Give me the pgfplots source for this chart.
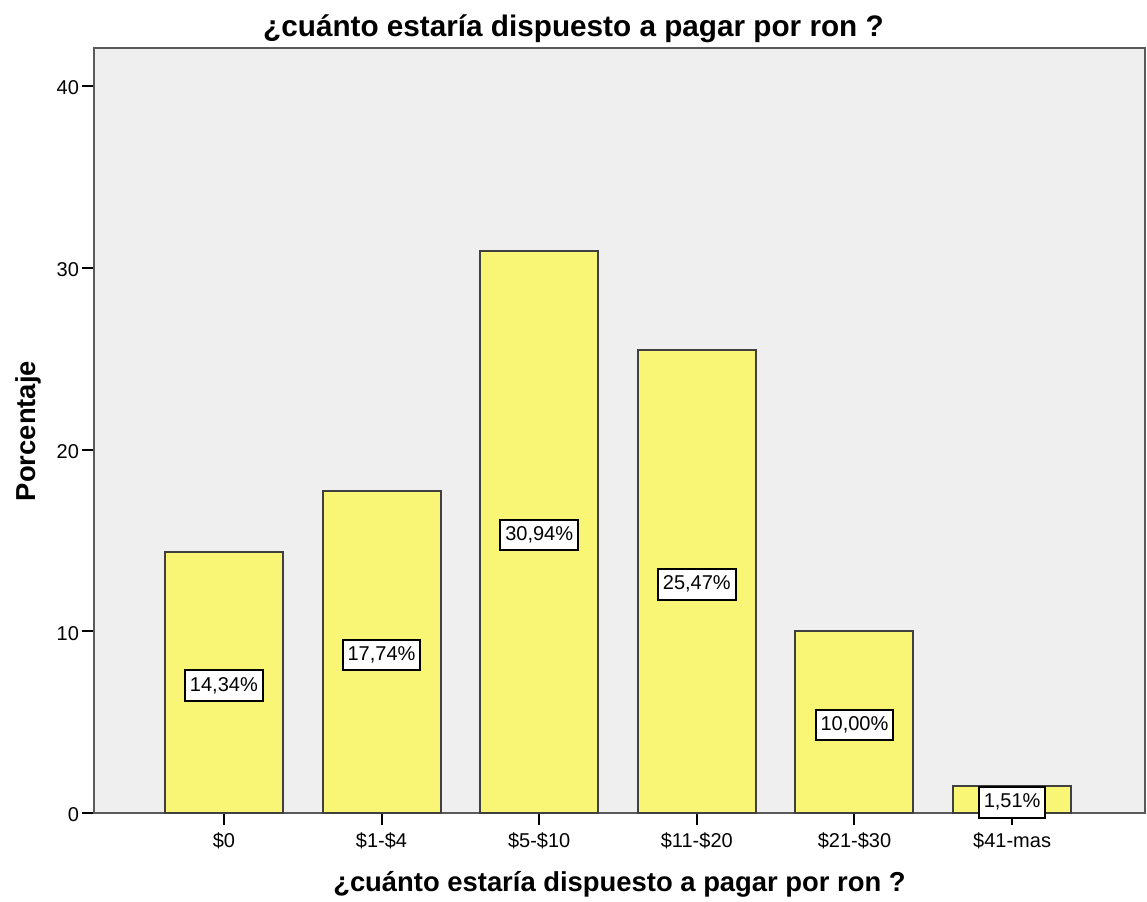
\documentclass[border=0pt]{standalone}
\usepackage{pgfplots}
\pgfplotsset{compat=1.18}
\usepackage{pgfplotstable}
\usepackage{fontspec}
\setmainfont{Liberation Sans}

\definecolor{plotbg}{RGB}{239,239,239}
\definecolor{barfill}{RGB}{249,245,117}
\definecolor{barline}{RGB}{64,64,64}
\definecolor{framecol}{RGB}{90,90,90}

% Percentages per price range
\pgfplotstableread{
x  y
0  14.34
1  17.74
2  30.94
3  25.47
4  10.00
5  1.51
}\ronData

\begin{document}
\begin{tikzpicture}
\useasboundingbox (-47pt,-44pt) rectangle (526.5pt,406.5pt);
\begin{axis}[
  at={(0,0)}, anchor=south west,
  scale only axis,
  width=525.5pt, height=382.5pt,
  xmin=-0.824, xmax=5.843,
  ymin=0, ymax=42.1,
  axis background/.style={fill=plotbg},
  axis line style={draw=framecol, line width=1pt},
  xtick={0,1,2,3,4,5},
  xticklabels={\$0,\$1-\$4,\$5-\$10,\$11-\$20,\$21-\$30,\$41-mas},
  ytick={0,10,20,30,40},
  tick align=outside,
  xtick pos=bottom, ytick pos=left,
  major tick length=6pt,
  tick style={draw=black, line width=1pt},
  /pgf/number format/assume math mode=true,
  tick label style={font=\fontsize{10}{12}\selectfont},
  yticklabel style={anchor=east, xshift=2pt, yshift=-2pt},
  xticklabel style={anchor=base, yshift=-11pt},
  typeset ticklabels with strut,
  clip=false,
]
\addplot[ybar, bar width=59pt, fill=barfill, draw=barline, line width=1pt]
  table[x=x, y=y] {\ronData};
% value labels centred halfway up each bar
\addplot[draw=none, mark=none,
  nodes near coords={\pgfmathprintnumber[fixed, fixed zerofill, precision=2, use comma]{\pgfplotspointmeta}\%},
  point meta=explicit,
  every node near coord/.append style={anchor=center, yshift=-1.5pt, fill=white, draw=black, line width=1pt,
    font=\fontsize{10}{12}\selectfont, inner xsep=2.5pt, inner ysep=3pt,
    text height=7.3pt, text depth=2pt}]
  table[x=x, y expr=\thisrow{y}/2, meta=y] {\ronData};
\end{axis}
\node[anchor=base, font=\bfseries\fontsize{14.85}{16}\selectfont] at (239.75pt,388pt)
  {¿cuánto estaría dispuesto a pagar por ron ?};
\node[anchor=base, font=\bfseries\fontsize{13.7}{16}\selectfont] at (262.75pt,-39pt)
  {¿cuánto estaría dispuesto a pagar por ron ?};
\node[anchor=base, rotate=90, font=\bfseries\fontsize{13.7}{16}\selectfont] at (-29pt,191pt)
  {Porcentaje};
\end{tikzpicture}
\end{document}
